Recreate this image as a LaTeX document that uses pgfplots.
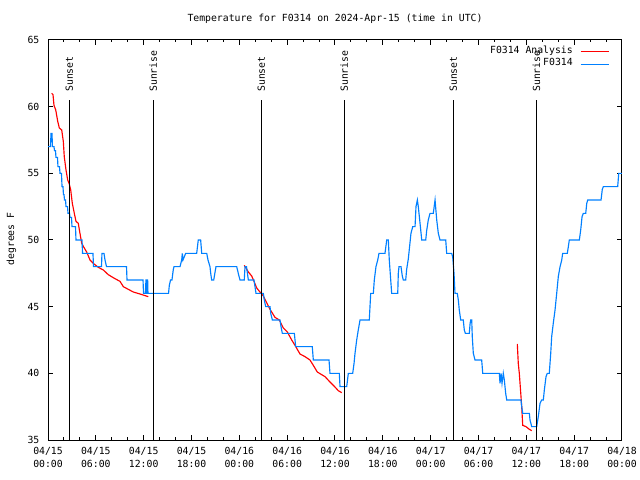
\documentclass[border=0pt]{standalone}
\usepackage{fontspec}
\setmainfont{DejaVu Sans Mono}
\usepackage{pgfplots}
\pgfplotsset{compat=1.18}
\definecolor{gred}{RGB}{255,0,0}
\definecolor{gblue}{RGB}{0,128,255}
\newcommand\gf{\fontsize{9.8bp}{13bp}\selectfont}
\begin{document}
\begin{tikzpicture}
\useasboundingbox (0,0) rectangle (640bp,480bp);
\fill[white] (0,0) rectangle (640bp,480bp);
\begin{axis}[
  at={(48bp,40bp)}, anchor=south west,
  width=574bp, height=400bp, scale only axis,
  xmin=0, xmax=72, ymin=35, ymax=65,
  xtick={0,6,...,72}, minor x tick num=2,
  ytick={35,40,...,65},
  xticklabels={{04/15\\00:00},{04/15\\06:00},{04/15\\12:00},{04/15\\18:00},{04/16\\00:00},{04/16\\06:00},{04/16\\12:00},{04/16\\18:00},{04/17\\00:00},{04/17\\06:00},{04/17\\12:00},{04/17\\18:00},{04/18\\00:00}},
  tick align=inside,
  major tick length=5bp, minor tick length=2.5bp,
  axis line style={line width=1bp},
  every tick/.style={black, line width=1bp},
  tick label style={font=\gf},
  /pgf/number format/assume math mode=true,
  xticklabel style={align=center, inner sep=0pt, yshift=-7bp},
  yticklabel style={inner sep=0pt, xshift=-8.5bp},
  legend style={draw=none, fill=none, at={(rel axis cs:1,1)}, anchor=north east,
    xshift=-12bp, yshift=-5bp, font=\gf, inner sep=0pt, row sep=0pt, column sep=7.4bp,
    nodes={inner sep=0pt, text height=8bp, text depth=4.7bp}},
  legend cell align=right, legend plot pos=right,
  legend image code/.code={\draw[#1] (0bp,0bp) -- (28.5bp,0bp);},
]
% F0314 Analysis (red)
\addplot[gred, line width=1.15bp] coordinates {
(0.46,61) (0.63,60.9) (0.75,60.1) (0.97,59.75) (1.22,58.9) (1.42,58.4) (1.72,58.25)
(1.92,57.4) (2.04,56.25) (2.26,55.25) (2.47,54.5) (2.67,54.2) (2.85,53.75) (3.05,52.75)
(3.30,52) (3.51,51.4) (3.80,51.25) (4.01,50.5) (4.23,49.75) (4.55,49.4) (4.85,49.1)
(5.27,48.5) (5.68,48.25) (6.31,47.95) (6.94,47.75) (7.56,47.4) (8.40,47.1) (9.03,46.9)
(9.45,46.5) (10.07,46.3) (10.70,46.1) (11.54,45.95) (12.58,45.75)
};
\addlegendentry{F0314 Analysis}
\addplot[gred, line width=1.15bp, forget plot] coordinates {
(24.62,48.1) (25.13,47.6) (25.55,47.3) (25.84,46.9) (26.18,46.4) (26.59,46.1) (27.01,45.8)
(27.43,45.3) (27.85,44.8) (28.47,44.2) (29.01,44.0) (29.52,43.4) (30.02,43.1) (30.57,42.5)
(30.98,42.1) (31.61,41.45) (32.24,41.25) (32.86,41.0) (33.28,40.6) (33.78,40.1) (34.33,39.9)
(34.75,39.75) (35.29,39.4) (35.88,39.05) (36.41,38.7) (36.84,38.55)
};
\addplot[gred, line width=1.15bp, forget plot] coordinates {
(58.87,42.2) (58.99,40.75) (59.12,40) (59.29,38.6) (59.42,37.5) (59.55,36.1) (59.96,36)
(60.38,35.8) (60.68,35.7)
};
% F0314 (blue)
\addplot[gblue, line width=1.15bp] coordinates {
(0,57) (0.31,57) (0.38,58) (0.50,58) (0.56,57) (0.75,57) (0.82,56.7) (0.94,56.7) (1.00,56.2)
(1.19,56.2) (1.25,55.5) (1.44,55.5) (1.51,55) (1.69,55) (1.76,54) (1.88,54) (1.94,53.4)
(2.01,53.4) (2.07,53) (2.20,53) (2.26,52.5) (2.45,52.5) (2.51,52) (2.70,52) (2.76,51.7)
(2.95,51.7) (3.01,51) (3.45,51) (3.51,50) (4.27,50) (4.33,49) (5.64,49) (5.71,48) (6.71,48)
(6.77,49) (7.02,49) (7.15,48.5) (7.34,48) (9.85,48) (9.91,47) (11.92,47) (11.98,46)
(12.21,46) (12.29,47) (12.34,47) (12.38,46) (12.42,46) (12.46,47) (12.50,47) (12.54,46)
(15.12,46) (15.22,46.6) (15.37,47) (15.55,47) (15.72,47.8) (15.81,48) (16.56,48) (16.77,48.5)
(16.85,49) (16.93,48.5) (17.27,49) (18.65,49) (18.85,50) (19.15,50) (19.28,49) (19.91,49)
(20.07,48.5) (20.32,48) (20.41,47.5) (20.53,47) (20.79,47) (21.07,48) (23.67,48) (23.87,47.5)
(24.08,47) (24.62,47) (24.71,48) (24.90,48) (25.13,47) (25.84,47) (26.09,46) (27.01,46)
(27.13,45.5) (27.31,45) (27.85,45) (27.94,44.5) (28.14,44) (29.10,44) (29.23,43.5) (29.39,43)
(30.90,43) (31.07,42) (33.15,42) (33.28,41) (35.25,41) (35.37,40) (36.54,40) (36.63,39)
(37.47,39) (37.67,40) (38.22,40) (38.39,40.75) (38.51,41.5) (38.72,42.5) (38.92,43.25)
(39.14,44) (40.30,44) (40.48,46) (40.81,46) (40.93,47) (41.14,48) (41.36,48.5) (41.52,49)
(42.27,49) (42.49,50) (42.69,50) (42.81,48.5) (42.99,47) (43.11,46) (43.87,46) (43.94,47.5)
(44.03,48) (44.28,48) (44.44,47.3) (44.57,47) (44.87,47) (44.99,47.8) (45.20,48.6) (45.32,49.3)
(45.53,50.5) (45.75,51) (46.04,51) (46.16,52.5) (46.33,53) (46.45,52.5) (46.66,51.3) (46.88,50)
(47.38,50) (47.50,50.7) (47.70,51.5) (47.92,52) (48.33,52) (48.55,53) (48.76,51.5) (48.96,50.5)
(49.17,50) (49.89,50) (50.01,49) (50.64,49) (50.77,48.7) (50.93,47.5) (51.05,46) (51.34,46)
(51.47,45.5) (51.59,44.75) (51.77,44) (52.09,44) (52.22,43.25) (52.35,43) (52.85,43) (52.94,43.7)
(53.02,44) (53.15,44) (53.22,42.75) (53.35,41.5) (53.56,41) (54.40,41) (54.53,40) (56.61,40)
(56.70,39.25) (56.83,40) (56.95,39.25) (57.11,40) (57.24,39.5) (57.41,38.5) (57.54,38) (59.33,38)
(59.42,37.5) (59.55,37) (60.38,37) (60.46,36.5) (60.68,36) (61.30,36) (61.50,36.75) (61.72,37.75)
(61.93,38) (62.13,38) (62.26,38.75) (62.47,39.75) (62.63,40) (62.88,40) (63.06,41.5) (63.18,42.75)
(63.38,43.75) (63.60,44.75) (63.81,46) (64.01,47.25) (64.23,48) (64.44,48.5) (64.56,49) (65.14,49)
(65.27,49.5) (65.39,50) (66.65,50) (66.82,50.75) (66.99,51.75) (67.15,52) (67.45,52) (67.58,52.75)
(67.70,53) (69.37,53) (69.53,53.8) (69.66,54) (71.46,54) (71.59,55) (72.00,55)
};
\addlegendentry{F0314}
% Sunset / Sunrise markers
\addplot[black, line width=1bp, forget plot] coordinates {(2.67,35) (2.67,60.5)};
\addplot[black, line width=1bp, forget plot] coordinates {(13.21,35) (13.21,60.5)};
\addplot[black, line width=1bp, forget plot] coordinates {(26.76,35) (26.76,60.5)};
\addplot[black, line width=1bp, forget plot] coordinates {(37.17,35) (37.17,60.5)};
\addplot[black, line width=1bp, forget plot] coordinates {(50.84,35) (50.84,60.5)};
\addplot[black, line width=1bp, forget plot] coordinates {(61.26,35) (61.26,60.5)};
\node[rotate=90, anchor=west, inner sep=0pt, font=\gf] at (axis cs:2.67,61.1) {Sunset};
\node[rotate=90, anchor=west, inner sep=0pt, font=\gf] at (axis cs:13.21,61.1) {Sunrise};
\node[rotate=90, anchor=west, inner sep=0pt, font=\gf] at (axis cs:26.76,61.1) {Sunset};
\node[rotate=90, anchor=west, inner sep=0pt, font=\gf] at (axis cs:37.17,61.1) {Sunrise};
\node[rotate=90, anchor=west, inner sep=0pt, font=\gf] at (axis cs:50.84,61.1) {Sunset};
\node[rotate=90, anchor=west, inner sep=0pt, font=\gf] at (axis cs:61.26,61.1) {Sunrise};
\end{axis}
\node[font=\gf] at (335bp,461bp) {Temperature for F0314 on 2024-Apr-15 (time in UTC)};
\node[rotate=90, font=\gf] at (11.5bp,241bp) {degrees F};
\end{tikzpicture}
\end{document}
